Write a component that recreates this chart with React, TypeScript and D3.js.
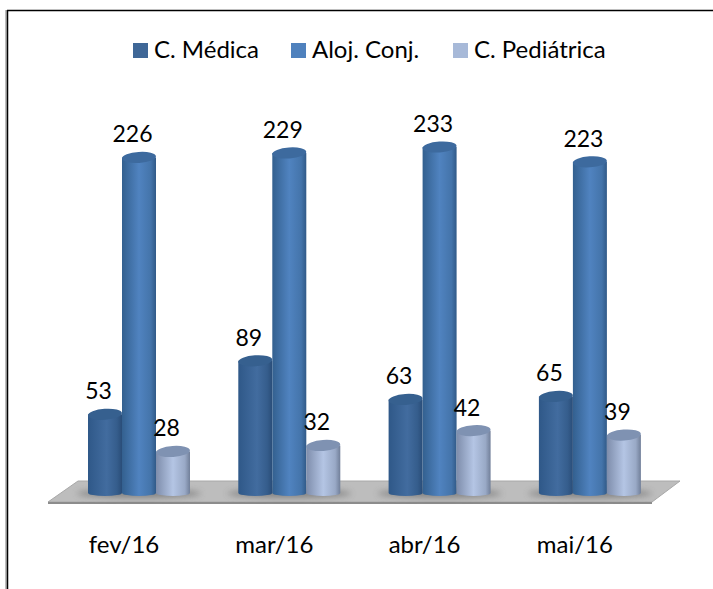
import React from "react";
import * as d3 from "d3";

const months = ["fev/16", "mar/16", "abr/16", "mai/16"];
const seriesNames = ["C. Médica", "Aloj. Conj.", "C. Pediátrica"];
const medica = [53, 89, 63, 65];
const aloj = [226, 229, 233, 223];
const pediatrica = [28, 32, 42, 39];
const allSeries = [medica, aloj, pediatrica];

const legendColors = ["#3f6797", "#4f81bd", "#a7b9d8"];
const topColors = ["#36608f", "#3d6a9e", "#7f92b2"];
const font = "Lato, 'Open Sans', sans-serif";

const WIDTH = 713;
const HEIGHT = 589;
const BASE_Y = 493;

export default function App() {
  const x0 = d3.scaleBand().domain(months).range([88, 689.2]).paddingInner(0).paddingOuter(0);
  const x1 = d3.scaleBand().domain(seriesNames).range([0, 102]);
  const y = d3.scaleLinear().domain([0, 233]).range([BASE_Y, BASE_Y - 346]);
  const rx = x1.bandwidth() / 2;
  const ry = 5.5;
  const floor = d3.line()([
    [48, 502],
    [78, 481],
    [680, 481],
    [652, 502],
  ]) + "Z";
  const floorEdge = d3.line()([
    [48, 502],
    [652, 502],
    [652, 504],
    [48, 504],
  ]) + "Z";

  return (
    <svg
      width={WIDTH}
      height={HEIGHT}
      style={{ position: "absolute", left: 0, top: 0, display: "block" }}
      fontFamily={font}
    >
      <defs>
        <linearGradient id="cyl0">
          <stop offset="0" stopColor="#2f5888" />
          <stop offset="0.55" stopColor="#426c9f" />
          <stop offset="0.85" stopColor="#355d8c" />
          <stop offset="1" stopColor="#2a4d78" />
        </linearGradient>
        <linearGradient id="cyl1">
          <stop offset="0" stopColor="#33608f" />
          <stop offset="0.5" stopColor="#5083c0" />
          <stop offset="0.85" stopColor="#4474aa" />
          <stop offset="1" stopColor="#315a88" />
        </linearGradient>
        <linearGradient id="cyl2">
          <stop offset="0" stopColor="#7e8dab" />
          <stop offset="0.5" stopColor="#b4c5e4" />
          <stop offset="0.85" stopColor="#99a9c6" />
          <stop offset="1" stopColor="#717f99" />
        </linearGradient>
        <filter id="blur" x="-30%" y="-100%" width="160%" height="300%">
          <feGaussianBlur stdDeviation="3" />
        </filter>
      </defs>

      <rect x={5} y={10} width={2} height={HEIGHT - 10} fill="#bdbdbd" />
      <line x1={7.5} x2={7.5} y1={10} y2={HEIGHT} stroke="#000" strokeWidth={1.5} />
      <line x1={7} x2={WIDTH} y1={10.5} y2={10.5} stroke="#000" strokeWidth={1.5} />

      {seriesNames.map((name, i) => {
        const lx = [133, 291, 453][i];
        return (
          <g key={name}>
            <rect x={lx} y={43} width={15} height={15} fill={legendColors[i]} />
            <text x={lx + 21} y={58} fontSize={24} fill="#000">
              {name}
            </text>
          </g>
        );
      })}

      <path d={floor} fill="#bdbdbd" stroke="#a8a8a8" strokeWidth={1} />
      <path d={floorEdge} fill="#8c8c8c" />

      {months.map((m) => (
        <ellipse
          key={m}
          cx={(x0(m) as number) + 51}
          cy={BASE_Y + 0.5}
          rx={62}
          ry={4}
          fill="#555"
          opacity={0.6}
          filter="url(#blur)"
        />
      ))}

      {months.map((m, mi) =>
        seriesNames.map((name, si) => {
          const cx = (x0(m) as number) + (x1(name) as number) + rx;
          const top = y(allSeries[si][mi]);
          const body =
            `M${cx - rx},${top}L${cx - rx},${BASE_Y}` +
            `A${rx},${ry - 2.5} 0 0 0 ${cx + rx},${BASE_Y}L${cx + rx},${top}Z`;
          return (
            <g key={m + name}>
              <path d={body} fill={`url(#cyl${si})`} />
              <ellipse
                cx={cx}
                cy={top}
                rx={rx}
                ry={ry}
                fill={topColors[si]}
                transform={`rotate(-4 ${cx} ${top})`}
              />
            </g>
          );
        })
      )}

      {months.map((m, mi) =>
        seriesNames.map((name, si) => {
          const cx = (x0(m) as number) + (x1(name) as number) + rx;
          return (
            <text
              key={m + name}
              x={cx - 6.5}
              y={y(allSeries[si][mi]) - 15}
              textAnchor="middle"
              fontSize={23}
              fill="#000"
            >
              {allSeries[si][mi]}
            </text>
          );
        })
      )}

      {months.map((m) => (
        <text
          key={m}
          x={(x0(m) as number) + 36}
          y={553}
          textAnchor="middle"
          fontSize={24}
          fill="#000"
        >
          {m}
        </text>
      ))}
    </svg>
  );
}
